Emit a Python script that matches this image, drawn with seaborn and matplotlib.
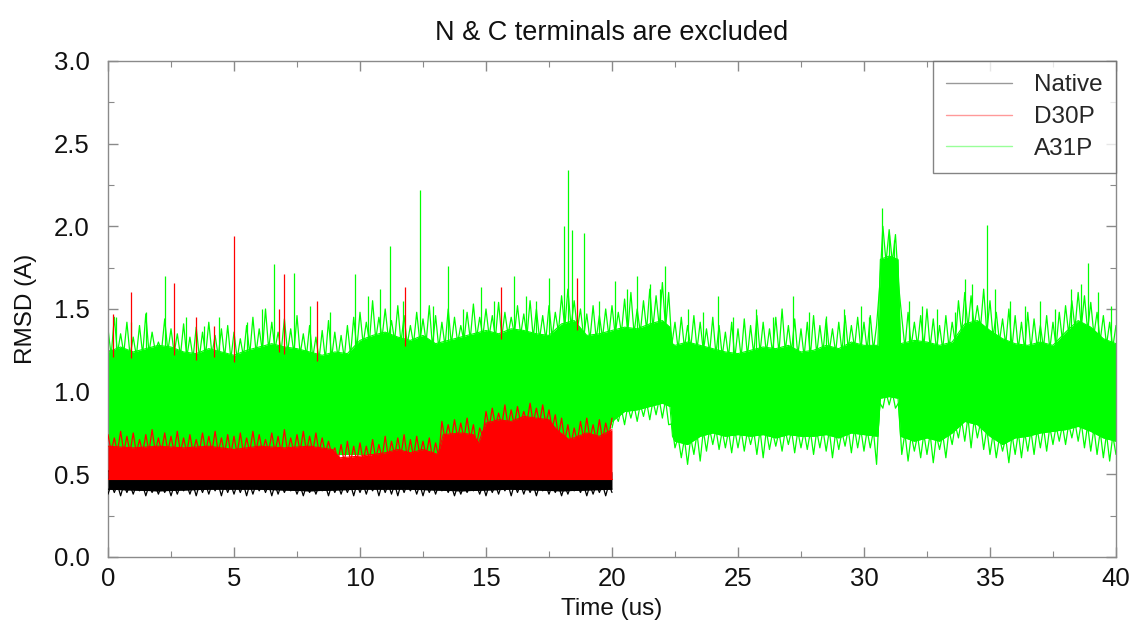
import numpy as np
import pandas as pd
import matplotlib
matplotlib.use("Agg")
import matplotlib.pyplot as plt
from matplotlib.lines import Line2D
from matplotlib.ticker import MultipleLocator, FormatStrFormatter
import seaborn as sns

# ---------------- data ----------------
title = "N & C terminals are excluded"
series_names = ["Native", "D30P", "A31P"]

# A31P band (green): envelope knots
a31p_t = [0, 0.5, 1, 1.5, 2, 2.5, 3, 3.5, 4, 4.5, 5, 5.5, 6, 6.5, 7, 7.5, 8, 8.5, 9, 9.5,
          10, 10.5, 11, 11.5, 12, 12.5, 13, 13.5, 14, 14.5, 15, 15.5, 16, 16.5, 17, 17.5,
          18, 18.5, 19, 19.5, 20, 20.5, 21, 21.5, 22, 22.3, 22.4, 22.5, 23, 23.5, 24, 24.5,
          25, 25.5, 26, 26.5, 27, 27.5, 28, 28.5, 29, 29.5, 30, 30.55, 30.65, 31, 31.35,
          31.45, 32, 32.5, 33, 33.5, 34, 34.5, 35, 35.5, 36, 36.5, 37, 37.5, 38, 38.5, 39,
          39.5, 40]
a31p_hi = [1.24, 1.27, 1.24, 1.26, 1.28, 1.27, 1.24, 1.23, 1.26, 1.24, 1.22, 1.25, 1.27, 1.29,
           1.27, 1.26, 1.24, 1.22, 1.24, 1.23, 1.31, 1.34, 1.36, 1.33, 1.31, 1.34, 1.29, 1.31,
           1.33, 1.35, 1.37, 1.35, 1.38, 1.37, 1.35, 1.34, 1.41, 1.43, 1.34, 1.35, 1.37, 1.39,
           1.38, 1.41, 1.43, 1.39, 1.29, 1.28, 1.30, 1.28, 1.26, 1.24, 1.23, 1.25, 1.27, 1.26,
           1.28, 1.24, 1.25, 1.28, 1.26, 1.30, 1.28, 1.28, 1.80, 1.82, 1.80, 1.29, 1.31, 1.30,
           1.28, 1.30, 1.41, 1.43, 1.37, 1.32, 1.29, 1.28, 1.30, 1.28, 1.36, 1.43, 1.39, 1.32,
           1.29]
a31p_lo = [0.62] * 40 + \
          [0.82, 0.88, 0.89, 0.91, 0.93, 0.91, 0.73, 0.70, 0.68, 0.73, 0.75, 0.73, 0.74, 0.73,
           0.74, 0.72, 0.74, 0.73, 0.73, 0.74, 0.72, 0.75, 0.74, 0.73, 0.96, 0.97, 0.96, 0.73,
           0.70, 0.72, 0.70, 0.75, 0.82, 0.80, 0.73, 0.68, 0.72, 0.73, 0.75, 0.76, 0.77, 0.79,
           0.76, 0.72, 0.70]
# peak heights of the dense fuzz on top of the green band, every 0.25 us from 0 to 40
a31p_fuzz_t = [i * 0.25 for i in range(161)]
a31p_fuzz_hi = [
    1.38, 1.45, 1.35, 1.42, 1.33, 1.40, 1.47, 1.36, 1.30, 1.44, 1.38, 1.35, 1.41, 1.33, 1.39, 1.36, 1.42, 1.34, 1.38, 1.40,
    1.36, 1.32, 1.40, 1.45, 1.38, 1.50, 1.42, 1.36, 1.44, 1.38, 1.46, 1.35, 1.40, 1.33, 1.37, 1.43, 1.36, 1.34, 1.40, 1.45,
    1.48, 1.42, 1.55, 1.45, 1.50, 1.43, 1.52, 1.46, 1.40, 1.48, 1.44, 1.52, 1.46, 1.42, 1.50, 1.45, 1.40, 1.48, 1.53, 1.45,
    1.50, 1.46, 1.54, 1.48, 1.45, 1.52, 1.47, 1.55, 1.50, 1.46, 1.52, 1.48, 1.58, 1.62, 1.55, 1.50, 1.47, 1.52, 1.46, 1.50,
    1.52, 1.48, 1.56, 1.60, 1.50, 1.55, 1.62, 1.58, 1.66, 1.60, 1.42, 1.45, 1.40, 1.46, 1.42, 1.38, 1.45, 1.40, 1.36, 1.42,
    1.38, 1.44, 1.40, 1.46, 1.42, 1.38, 1.45, 1.50, 1.40, 1.44, 1.38, 1.42, 1.46, 1.40, 1.44, 1.38, 1.42, 1.46, 1.40, 1.45,
    1.42, 1.46, 1.40, 2.00, 1.98, 1.95, 1.45, 1.48, 1.42, 1.46, 1.50, 1.44, 1.40, 1.46, 1.42, 1.55, 1.60, 1.58, 1.52, 1.62,
    1.55, 1.48, 1.44, 1.50, 1.46, 1.42, 1.48, 1.44, 1.40, 1.46, 1.42, 1.48, 1.52, 1.55, 1.60, 1.58, 1.54, 1.48, 1.46, 1.42,
    1.40]
# depth of the fuzz under the green band, every 0.25 us from 20 to 40
a31p_fuzz_lo_t = [20 + i * 0.25 for i in range(81)]
a31p_fuzz_lo = [
    0.78, 0.82, 0.80, 0.84, 0.82, 0.85, 0.83, 0.86, 0.84, 0.80, 0.66, 0.60, 0.56, 0.62, 0.58, 0.64, 0.68, 0.65, 0.66, 0.63,
    0.66, 0.64, 0.68, 0.62, 0.60, 0.65, 0.67, 0.64, 0.68, 0.63, 0.66, 0.65, 0.62, 0.66, 0.64, 0.60, 0.65, 0.67, 0.63, 0.66,
    0.64, 0.66, 0.56, 0.90, 0.92, 0.90, 0.62, 0.58, 0.64, 0.60, 0.62, 0.57, 0.65, 0.60, 0.68, 0.72, 0.70, 0.66, 0.72, 0.65,
    0.62, 0.60, 0.64, 0.57, 0.62, 0.60, 0.64, 0.62, 0.66, 0.64, 0.68, 0.70, 0.68, 0.72, 0.70, 0.66, 0.64, 0.62, 0.60, 0.58,
    0.62]
a31p_spike_t = [0.3, 0.9, 1.5, 2.27, 3.1, 3.8, 4.4, 5.5, 6.1, 6.6, 7.4, 8.0, 8.8, 9.8, 10.3,
                10.8, 11.2, 11.7, 12.4, 12.9, 13.5, 14.1, 14.8, 15.3, 16.1, 16.6, 17.0, 17.5,
                18.1, 18.25, 18.4, 18.9, 19.5, 20.1, 20.6, 21.0, 21.5, 21.9, 22.1, 23.0, 23.6,
                24.2, 24.8, 25.7, 26.4, 27.2, 27.8, 28.5, 29.2, 29.9, 30.2, 30.7, 31.0, 31.2,
                31.8, 32.3, 32.9, 33.6, 34.0, 34.3, 34.9, 35.2, 35.8, 36.4, 37.0, 37.6, 38.2,
                38.6, 38.9, 39.3, 39.8]
a31p_spike_v = [1.45, 1.42, 1.48, 1.70, 1.45, 1.40, 1.45, 1.42, 1.50, 1.77, 1.72, 1.52, 1.48,
                1.71, 1.58, 1.62, 1.88, 1.55, 2.22, 1.52, 1.76, 1.50, 1.63, 1.55, 1.70, 1.58,
                1.55, 1.69, 2.00, 2.34, 1.98, 1.96, 1.55, 1.67, 1.62, 1.70, 1.65, 1.62, 1.76,
                1.50, 1.48, 1.58, 1.45, 1.50, 1.45, 1.58, 1.48, 1.46, 1.50, 1.52, 1.45, 2.11,
                1.95, 1.92, 1.55, 1.52, 1.50, 1.48, 1.68, 1.65, 2.01, 1.62, 1.55, 1.52, 1.55,
                1.50, 1.62, 1.65, 1.78, 1.60, 1.52]

# D30P band (red)
d30p_t = [0, 1, 2, 3, 4, 5, 6, 7, 8, 8.9, 9.2, 10, 11, 11.5, 12, 12.5, 13.1, 13.3, 14, 14.5,
          14.7, 15, 15.5, 16, 16.5, 17, 17.5, 17.8, 18.3, 19, 19.5, 20]
d30p_hi = [0.67, 0.66, 0.67, 0.66, 0.67, 0.65, 0.67, 0.66, 0.67, 0.65, 0.60, 0.61, 0.63, 0.65,
           0.63, 0.65, 0.62, 0.74, 0.75, 0.74, 0.69, 0.81, 0.83, 0.82, 0.85, 0.84, 0.83, 0.77,
           0.71, 0.75, 0.73, 0.77]
d30p_lo = [0.47] * len(d30p_t)
d30p_fuzz_t = [i * 0.25 for i in range(81)]
d30p_fuzz_hi = [
    0.74, 0.72, 0.76, 0.73, 0.75, 0.71, 0.74, 0.77, 0.72, 0.75, 0.73, 0.76, 0.72, 0.74, 0.71, 0.75, 0.73, 0.76, 0.72, 0.74,
    0.73, 0.75, 0.72, 0.76, 0.74, 0.71, 0.75, 0.73, 0.77, 0.72, 0.74, 0.76, 0.73, 0.75, 0.72, 0.70, 0.66, 0.68, 0.70, 0.67,
    0.69, 0.67, 0.71, 0.68, 0.73, 0.70, 0.72, 0.74, 0.71, 0.73, 0.70, 0.72, 0.69, 0.82, 0.80, 0.83, 0.81, 0.84, 0.80, 0.78,
    0.88, 0.90, 0.87, 0.92, 0.89, 0.91, 0.88, 0.93, 0.90, 0.92, 0.89, 0.86, 0.84, 0.80, 0.78, 0.82, 0.84, 0.80, 0.83, 0.81,
    0.84]
d30p_spike_t = [0.2, 0.9, 2.6, 3.5, 4.2, 5.0, 6.8, 7.0, 8.3, 11.8, 15.6, 18.6]
d30p_spike_v = [1.47, 1.60, 1.66, 1.45, 1.40, 1.94, 1.50, 1.71, 1.55, 1.63, 1.63, 1.69]

# Native band (black)
native_t = [0, 2, 4, 6, 8, 10, 12, 14, 16, 18, 20]
native_hi = [0.52, 0.51, 0.53, 0.51, 0.52, 0.51, 0.52, 0.51, 0.53, 0.52, 0.51]
native_lo = [0.41, 0.40, 0.41, 0.41, 0.40, 0.41, 0.41, 0.40, 0.41, 0.40, 0.41]
native_fuzz_t = [i * 0.25 for i in range(81)]
native_fuzz_lo = [
    0.38, 0.39, 0.37, 0.39, 0.38, 0.40, 0.37, 0.39, 0.38, 0.39, 0.37, 0.38, 0.40, 0.38, 0.37, 0.39, 0.38, 0.40, 0.37, 0.39,
    0.38, 0.39, 0.37, 0.38, 0.40, 0.39, 0.37, 0.38, 0.39, 0.40, 0.38, 0.37, 0.39, 0.38, 0.40, 0.37, 0.39, 0.38, 0.39, 0.37,
    0.39, 0.38, 0.40, 0.37, 0.39, 0.38, 0.37, 0.39, 0.40, 0.38, 0.37, 0.39, 0.38, 0.40, 0.39, 0.37, 0.38, 0.39, 0.40, 0.38,
    0.37, 0.39, 0.38, 0.40, 0.37, 0.39, 0.38, 0.39, 0.37, 0.40, 0.38, 0.39, 0.37, 0.38, 0.40, 0.39, 0.37, 0.38, 0.39, 0.37,
    0.39]

colors = {"Native": "#000000", "D30P": "#ff0000", "A31P": "#00ff00"}

# ---------------- drawing ----------------
sns.set_theme(style="ticks")
plt.rcParams["font.family"] = ["Liberation Sans", "DejaVu Sans"]

fig = plt.figure(figsize=(11.31, 6.28), dpi=100)
ax = fig.add_axes([0.0955, 0.1131, 0.8912, 0.7898])


def band(name, t, lo, hi, z):
    c = colors[name]
    ax.fill_between(t, lo, hi, color=c, lw=0, zorder=z)
    edge = pd.DataFrame({"t": list(t) + list(t),
                         "v": list(hi) + list(lo),
                         "edge": ["hi"] * len(t) + ["lo"] * len(t)})
    sns.lineplot(data=edge, x="t", y="v", units="edge", estimator=None,
                 color=c, lw=0.8, ax=ax, legend=False, zorder=z)


def fuzz(name, ft, fv, ref_t, ref_v, z, lw=0.9, up=True):
    """noisy edge: the trace jumps from the band edge to each read peak and back"""
    ft = np.asarray(ft)
    half = (ft[1] - ft[0]) / 2.0
    mids = ft + half
    base = np.interp(mids, ref_t, ref_v) + (-0.03 if up else 0.03)
    xs = np.empty(2 * len(ft))
    ys = np.empty(2 * len(ft))
    xs[0::2], ys[0::2] = ft, fv
    xs[1::2], ys[1::2] = mids, base
    keep = xs <= max(ref_t)
    ax.plot(xs[keep], ys[keep], color=colors[name], lw=lw, zorder=z)


def spikes(name, st, sv, ref_t, ref_v, z):
    base = np.interp(st, ref_t, ref_v) - 0.04
    ax.vlines(st, base, sv, color=colors[name], lw=0.9, zorder=z)


# green (bottom layer)
band("A31P", a31p_t, a31p_lo, a31p_hi, 2)
fuzz("A31P", a31p_fuzz_t, a31p_fuzz_hi, a31p_t, a31p_hi, 2)
fuzz("A31P", a31p_fuzz_lo_t, a31p_fuzz_lo, a31p_t, a31p_lo, 2, up=False)
spikes("A31P", a31p_spike_t, a31p_spike_v, a31p_t, a31p_hi, 2)

# black (middle)
band("Native", native_t, native_lo, native_hi, 3)
fuzz("Native", native_fuzz_t, native_fuzz_lo, native_t, native_lo, 3, up=False)

# red (top)
band("D30P", d30p_t, d30p_lo, d30p_hi, 4)
fuzz("D30P", d30p_fuzz_t, d30p_fuzz_hi, d30p_t, d30p_hi, 4)
spikes("D30P", d30p_spike_t, d30p_spike_v, a31p_t, a31p_hi, 4)

ax.set_xlim(0, 40)
ax.set_ylim(0, 3.0)
ax.xaxis.set_major_locator(MultipleLocator(5))
ax.xaxis.set_minor_locator(MultipleLocator(2.5))
ax.yaxis.set_major_locator(MultipleLocator(0.5))
ax.yaxis.set_minor_locator(MultipleLocator(0.25))
ax.xaxis.set_major_formatter(FormatStrFormatter("%d"))
ax.yaxis.set_major_formatter(FormatStrFormatter("%.1f"))

gray = "#8a8a8a"
for s in ax.spines.values():
    s.set_color(gray)
    s.set_linewidth(1.0)
ax.tick_params(which="both", direction="in", top=True, right=True, color=gray,
               labelsize=18.5, labelcolor="#111111")
ax.tick_params(which="major", length=7, width=1.0)
ax.tick_params(which="minor", length=4, width=0.8)
ax.tick_params(axis="y", pad=13)
ax.tick_params(axis="x", pad=7)

ax.set_xlabel("Time (us)", fontsize=17.5, color="#111111", labelpad=5)
ax.set_ylabel("RMSD (A)", fontsize=17.5, color="#111111", labelpad=12)
ax.set_title(title, fontsize=19.5, color="#111111", pad=15)

handles = [Line2D([], [], color=colors[n], lw=1.0, alpha=0.4) for n in series_names]
leg = ax.legend(handles, series_names, loc="upper right", borderaxespad=0,
                fontsize=17.5, frameon=True, fancybox=False, handlelength=2.7,
                handletextpad=0.9, borderpad=0.55, labelspacing=0.4)
leg.get_frame().set_edgecolor("#666666")
leg.get_frame().set_linewidth(1.0)
leg.set_zorder(10)

fig.savefig("out.png", dpi=100)
